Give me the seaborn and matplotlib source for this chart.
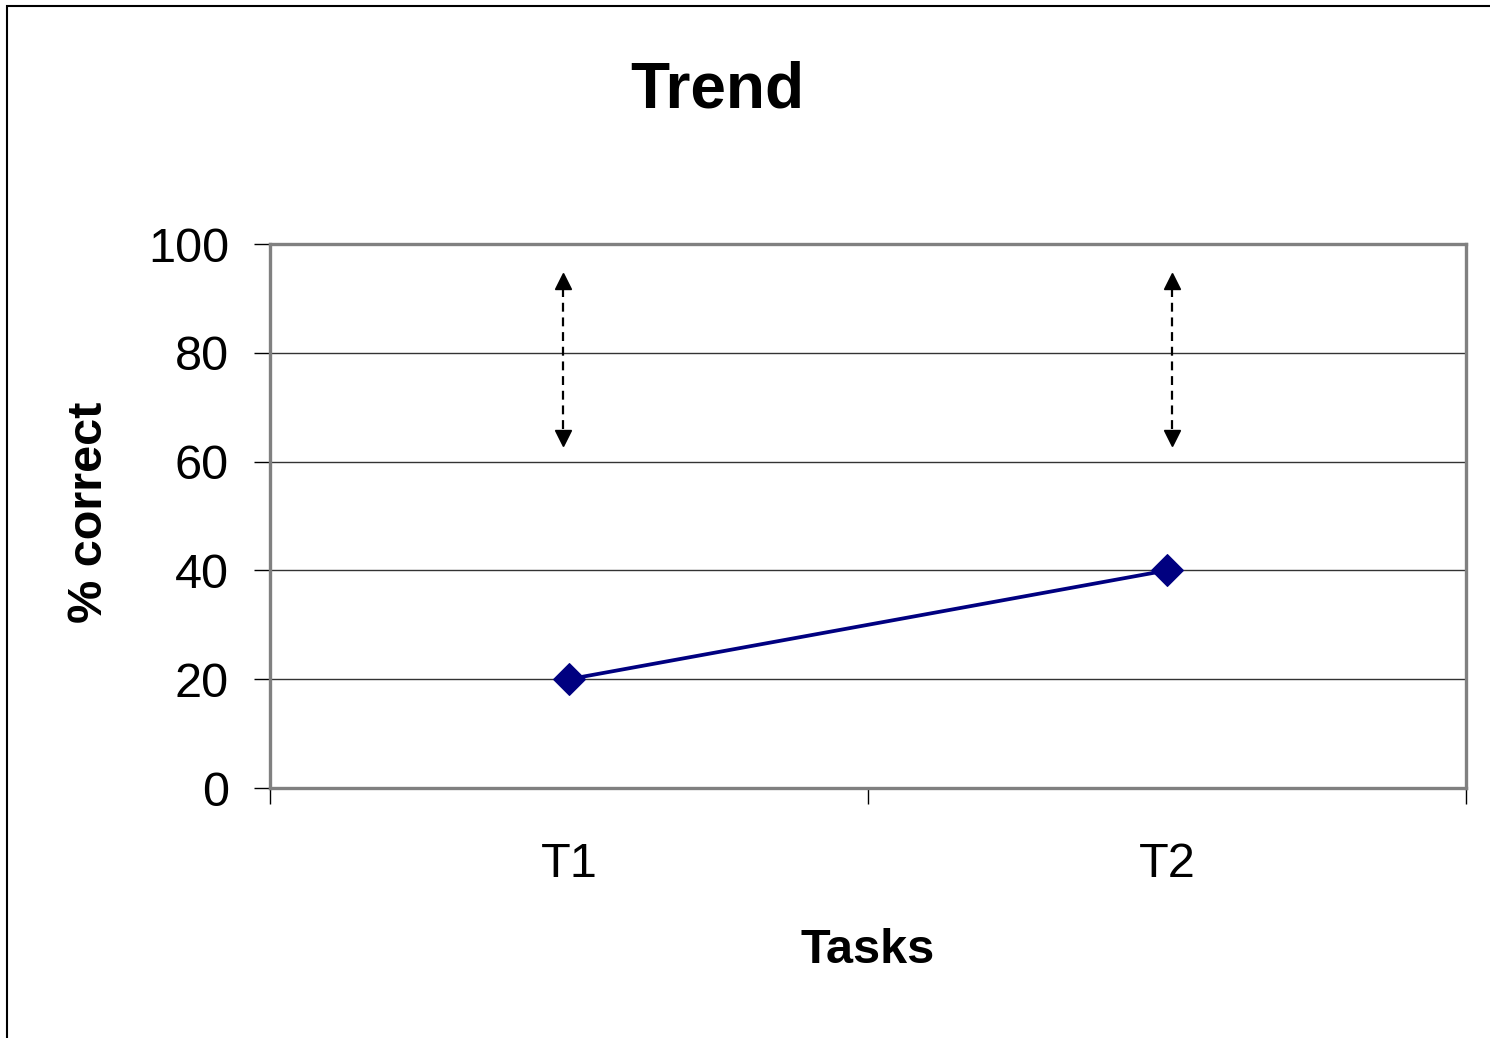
import numpy as np
import pandas as pd
import matplotlib
matplotlib.use("Agg")
import matplotlib.pyplot as plt
import seaborn as sns
from matplotlib.patches import Rectangle

# ---- data ----
tasks = ["T1", "T2"]
pct_correct = [20, 40]
arrow_x = [-0.01, 1.008]          # category positions of the range arrows
arrow_low = [62.7, 62.7]
arrow_high = [94.9, 94.9]
y_ticks = [0, 20, 40, 60, 80, 100]

sns.set_theme(style="white")
plt.rcParams["font.family"] = ["Liberation Sans", "DejaVu Sans"]
plt.rcParams["text.color"] = "black"
plt.rcParams["axes.labelcolor"] = "black"
plt.rcParams["xtick.color"] = "black"
plt.rcParams["ytick.color"] = "black"

W, H = 1490, 1038
fig = plt.figure(figsize=(W / 100, H / 100), dpi=100)
ax = fig.add_axes([270 / W, 1 - 788 / H, (1466 - 270) / W, (788 - 244) / H])

df = pd.DataFrame({"Tasks": tasks, "pct": pct_correct})
sns.lineplot(data=df, x="Tasks", y="pct", ax=ax, color="#000080", linewidth=2.7,
             marker="D", markersize=16, markeredgecolor="#000080",
             markerfacecolor="#000080", sort=False)

# range arrows
for x, lo, hi in zip(arrow_x, arrow_low, arrow_high):
    ax.plot([x, x], [lo + 3.3, hi - 3.3], color="black", lw=1.6,
            linestyle=(0, (4, 2.6)), zorder=3)
    ax.plot([x], [hi - 1.65], marker="^", color="black", markersize=11,
            linestyle="none", zorder=3)
    ax.plot([x], [lo + 1.65], marker="v", color="black", markersize=11,
            linestyle="none", zorder=3)

ax.set_xlim(-0.5, 1.5)
ax.set_ylim(0, 100)
ax.set_yticks(y_ticks)
ax.set_yticklabels([str(v) for v in y_ticks], fontsize=35, color="black")
ax.set_xticks([0, 1])
ax.set_xticklabels(tasks, fontsize=35, color="black")
ax.set_xticks([-0.5, 0.5, 1.5], minor=True)
ax.tick_params(axis="x", which="major", length=0, pad=39)
ax.tick_params(axis="x", which="minor", length=11.5, width=1, color="black",
               direction="out", bottom=True)
ax.tick_params(axis="y", which="major", length=11.5, width=1, color="black",
               direction="out", left=True, pad=18)

ax.grid(False)
for v in y_ticks[1:-1]:
    ax.axhline(v, color="#333333", lw=1.0, zorder=1)

for s in ax.spines.values():
    s.set_color("#808080")
    s.set_linewidth(2.4)
    s.set_visible(True)

ax.set_xlabel("Tasks", fontsize=35, fontweight="bold", color="black")
ax.set_ylabel("% correct", fontsize=35, fontweight="bold", color="black")
ax.xaxis.set_label_coords(0.5, -0.257)
ax.yaxis.set_label_coords(-0.132, 0.507)

fig.text(717 / W, 1 - 90 / H, "Trend", ha="center", va="center",
         fontsize=46, fontweight="bold", color="black")

# outer chart frame (partly cut off)
fig.patches.append(Rectangle((7.5 / W, -0.05), 1.2, 1 - 5.5 / H + 0.05,
                             transform=fig.transFigure, fill=False,
                             edgecolor="black", lw=1.5))

fig.savefig("out.png", dpi=100)
